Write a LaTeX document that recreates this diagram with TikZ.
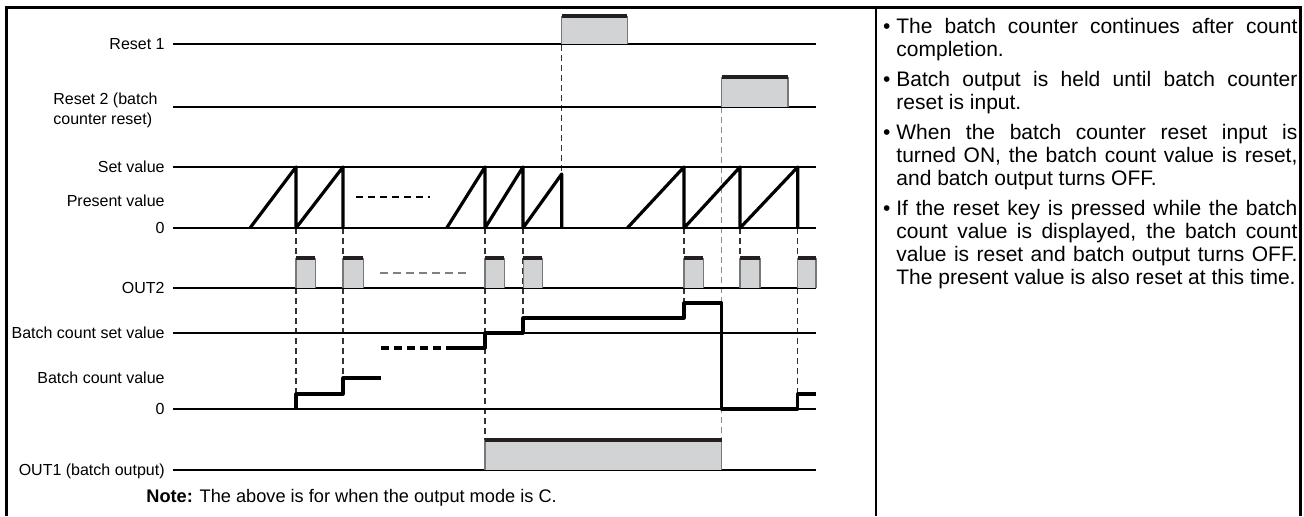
\documentclass[tikz,border=0pt]{standalone}
\usepackage{fontspec}
\setmainfont{Liberation Sans}
\usepackage{tikz}

\definecolor{pulsegray}{RGB}{209,211,212}
\definecolor{edgegray}{RGB}{120,120,120}
\definecolor{topdark}{RGB}{35,31,32}

\tikzset{
  sig/.style={line width=0.65pt},
  wave/.style={line width=1.6pt, line join=round},
  guide/.style={line width=0.55pt, black!80, dash pattern=on 3pt off 2pt},
  lbl/.style={font=\fontsize{8}{10}\selectfont, anchor=east, inner sep=0pt, text height=5.7pt, text depth=0pt},
  frame/.style={line width=1.5pt},
}

% pulse: left x, right x, top y, base y
\newcommand{\pulse}[4]{%
  \fill[pulsegray] (#1,#3) rectangle (#2,#4);
  \draw[edgegray, line width=0.6pt] (#1,#4) -- (#1,#3) (#2,#3) -- (#2,#4);
  \draw[topdark, line width=1.6pt] (#1,#3) -- (#2,#3);
}
\newcommand{\bul}{\leavevmode\llap{\textbullet\hspace{3pt}}}

\begin{document}
\begin{tikzpicture}[x=0.5pt,y=-0.5pt]
  \useasboundingbox (0,0) rectangle (1304,516);

  % frame
  \draw[frame] (6.5,516) -- (6.5,7.5) -- (1300.5,7.5) -- (1300.5,516);
  \draw[line width=0.75pt] (876,7.5) -- (876,516);

  % labels
  \node[lbl] (lreset1) at (165,44) {Reset 1};
  \node[font=\fontsize{8}{10}\selectfont, anchor=west, align=left, inner sep=0pt] (lreset2) at (53,110) {Reset 2 (batch\\counter reset)};
  \node[lbl] (lset) at (165,167) {Set value};
  \node[lbl] (lpres) at (165,201) {Present value};
  \node[lbl] (lzero) at (165,228) {0};
  \node[lbl] (lout2) at (165,288) {OUT2};
  \node[lbl] (lbset) at (165,333) {Batch count set value};
  \node[lbl] (lbval) at (165,378) {Batch count value};
  \node[lbl] (lbzero) at (165,409) {0};
  \node[lbl] (lout1) at (165,470) {OUT1 (batch output)};

  % timing guides
  \draw[guide] (296,228) -- (296,394);
  \draw[guide] (343,228) -- (343,378);
  \draw[guide] (485,228) -- (485,440);
  \draw[guide] (523,228) -- (523,318);
  \draw[guide] (561.7,45) -- (561.7,174);
  \draw[guide] (684,228) -- (684,303);
  \draw[guide, black!45] (721.7,107) -- (721.7,440);
  \draw[guide] (740,228) -- (740,258);
  \draw[guide] (797.7,228) -- (797.7,394);

  % signal lines
  \draw[sig] (173,44) -- (816,44);
  \draw[sig] (173,107) -- (816,107);
  \draw[sig] (173,167) -- (816,167);
  \draw[sig] (173,228) -- (816,228);
  \draw[sig] (173,288) -- (816,288);
  \draw[sig] (173,333) -- (816,333);
  \draw[sig] (173,409) -- (816,409);
  \draw[sig] (173,470) -- (816,470);

  % reset pulses
  \pulse{561.7}{627.3}{16}{44}
  \pulse{721.7}{788}{77}{107}

  % present value
  \draw[wave] (250,228) -- (296,167) -- (296,228) -- (343,167) -- (343,228);
  \draw[line width=0.55pt, dash pattern=on 3.5pt off 2.5pt] (356,197) -- (430,197);
  \draw[wave] (446.7,228) -- (485,167) -- (485,228) -- (523,167) -- (523,228) -- (561.7,174) -- (561.7,228);
  \draw[wave] (627.3,228) -- (684,167) -- (684,228) -- (740,167) -- (740,228) -- (797.7,167) -- (797.7,228);

  % OUT2
  \pulse{296}{315.3}{258}{288}
  \pulse{343}{363.3}{258}{288}
  \draw[line width=0.55pt, black!50, dash pattern=on 4pt off 2.5pt] (380,273) -- (467,273);
  \pulse{485}{504.3}{258}{288}
  \pulse{523.3}{542.3}{258}{288}
  \pulse{684}{703.3}{258}{288}
  \pulse{740}{760}{258}{288}
  \pulse{797.7}{816}{258}{288}

  % batch count value
  \draw[wave] (296,409) -- (296,394) -- (343,394) -- (343,378) -- (381,378);
  \draw[wave, dash pattern=on 4pt off 2.5pt] (381,348) -- (447,348);
  \draw[wave] (447,348) -- (485,348) -- (485,333) -- (523,333) -- (523,318) -- (684,318) -- (684,303) -- (721.7,303) -- (721.7,409) -- (797.7,409) -- (797.7,394) -- (816,394);

  % OUT1
  \pulse{485}{721.7}{440}{470}

  \node[anchor=west, inner sep=0pt, font=\fontsize{9.1}{10}\selectfont] (note) at (146,498) {\textbf{Note:} The above is for when the output mode is C.};

  % remarks
  \node[anchor=north west, inner sep=0pt, text width=200.5pt, align=justify, font=\fontsize{10.5}{11.5}\selectfont] (remarks) at (896,18) {%
    \setlength{\parskip}{3.5pt}\setlength{\parindent}{0pt}%
    \bul The batch counter continues after count\linebreak completion.\par
    \bul Batch output is held until batch counter\linebreak reset is input.\par
    \bul When the batch counter reset input is\linebreak turned ON, the batch count value is reset,\linebreak and batch output turns OFF.\par
    \bul If the reset key is pressed while the batch\linebreak count value is displayed, the batch count\linebreak value is reset and batch output turns OFF.\linebreak The present value is also reset at this time.\par};
\end{tikzpicture}
\end{document}
